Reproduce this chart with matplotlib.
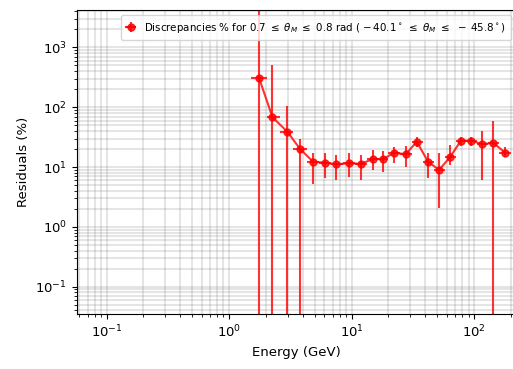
import numpy as np
import matplotlib
matplotlib.use("Agg")
import matplotlib.pyplot as plt

# Discrepancias por bin de energía (%), con barras de error asimétricas
energy = [1.76, 2.26, 2.99, 3.80, 4.85, 6.08, 7.51, 9.55, 11.9, 15.0, 18.1,
          22.1, 27.7, 34.0, 42.1, 51.8, 63.4, 78.0, 95.0, 117.0, 143.0, 179.0]
bin_lo = [1.50, 2.05, 2.60, 3.35, 4.30, 5.40, 6.80, 8.50, 10.7, 13.4, 16.5,
          20.0, 25.0, 31.0, 38.0, 47.0, 58.0, 71.0, 87.0, 106.0, 130.0, 160.0]
bin_hi = [2.05, 2.60, 3.35, 4.30, 5.40, 6.80, 8.50, 10.7, 13.4, 16.5, 20.0,
          25.0, 31.0, 38.0, 47.0, 58.0, 71.0, 87.0, 106.0, 130.0, 160.0, 200.0]
resid = [305, 68, 39, 20, 12.3, 11.8, 11.1, 11.6, 11.3, 13.7, 13.5,
         17.4, 16.4, 26.6, 12.3, 8.95, 14.6, 27.6, 27.6, 24.0, 25.6, 17.4]
err_lo = [4200, 441, 66, 25, 7.1, 5.3, 5.0, 4.7, 5.2, 4.75, 5.1,
          5.8, 6.4, 4.7, 5.8, 6.9, 3.8, 5.3, 5.3, 17.9, 34.1, 2.4]
err_hi = [4200, 441, 66, 9.2, 4.7, 5.2, 4.8, 5.4, 4.6, 5.6, 5.3,
          4.5, 5.9, 5.6, 5.1, 8.05, 8.8, 4.3, 4.3, 16.6, 34.1, 4.1]

E = np.array(energy)
xerr = [E - np.array(bin_lo), np.array(bin_hi) - E]
yerr = [err_lo, err_hi]

label = (r'Discrepancies % for 0.7 $\leq$ $\theta_M$ $\leq$ 0.8 rad '
         r'( $-\,$40.1$^\circ$ $\leq$ $\theta_M$ $\leq$ $\,-\,$45.8$^\circ$)')

fig = plt.figure(figsize=(5.13, 3.69), dpi=100)
ax = fig.add_axes([0.150, 0.149, 0.856, 0.824])

ax.errorbar(E, resid, xerr=xerr, yerr=yerr, fmt='o-', color='red', alpha=0.8,
            lw=1.5, elinewidth=1.5, ms=5, label=label)

ax.set_xscale('log')
ax.set_yscale('log')
ax.set_xlim(0.0573, 220)
ax.set_ylim(0.0349, 4240)
ax.grid(True, which='both', color='gray', alpha=0.2, lw=1.5)

ax.set_xlabel('Energy (GeV)', fontsize=9.5)
ax.set_ylabel('Residuals (%)', fontsize=9.5)
ax.tick_params(labelsize=9.5)
ax.legend(loc='upper right', fontsize=7.4, handlelength=0.9, borderpad=0.55)

fig.savefig('out.png', dpi=100)
